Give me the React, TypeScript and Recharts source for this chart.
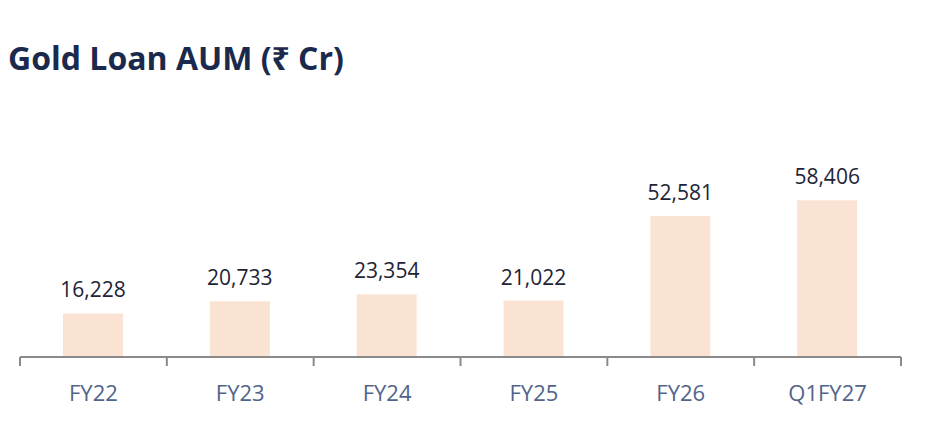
import React from "react";
import { Bar, BarChart, LabelList, XAxis, YAxis } from "recharts";

const periods = ["FY22", "FY23", "FY24", "FY25", "FY26", "Q1FY27"];
const aumValues = [16228, 20733, 23354, 21022, 52581, 58406];

const data = periods.map((period, i) => ({ period, aum: aumValues[i] }));

const WIDTH = 936;
const HEIGHT = 426;
const MARGIN = { top: 196, right: 35, left: 20, bottom: 29 };
const BAND = (WIDTH - MARGIN.left - MARGIN.right) / periods.length;

const FONT = "'Open Sans', 'Noto Sans', sans-serif";

function PeriodTick(props: any) {
  const { x, y, payload, index } = props;
  const left = x - BAND / 2;
  const right = x + BAND / 2;
  return (
    <g>
      <line x1={left} y1={y - 8} x2={left} y2={y + 1} stroke="#8a8a8a" strokeWidth={2} />
      {index === periods.length - 1 && (
        <line x1={right} y1={y - 8} x2={right} y2={y + 1} stroke="#8a8a8a" strokeWidth={2} />
      )}
      <text x={x} y={y + 36} textAnchor="middle" fill="#52648a" fontSize={22} fontFamily={FONT}>
        {payload.value}
      </text>
    </g>
  );
}

export default function App() {
  return (
    <div style={{ position: "absolute", left: 0, top: 0, width: WIDTH, height: HEIGHT, background: "#fff" }}>
      <div
        style={{
          position: "absolute",
          left: 8,
          top: 38,
          fontFamily: FONT,
          fontWeight: 700,
          fontSize: 32,
          color: "#1b2a4c",
          lineHeight: "40px",
          whiteSpace: "nowrap",
        }}
      >
        Gold Loan AUM (₹ Cr)
      </div>
      <BarChart width={WIDTH} height={HEIGHT} data={data} margin={MARGIN} barCategoryGap={0}>
        <XAxis
          dataKey="period"
          axisLine={{ stroke: "#8a8a8a", strokeWidth: 2 }}
          tickLine={false}
          tick={<PeriodTick />}
          height={40}
          interval={0}
        />
        <YAxis hide domain={[0, 60000]} />
        <Bar dataKey="aum" fill="#fbe3d3" barSize={60} isAnimationActive={false}>
          <LabelList
            dataKey="aum"
            position="top"
            offset={16}
            formatter={(v: any) => Number(v).toLocaleString("en-US")}
            fill="#1e2436"
            fontSize={21}
            fontFamily={FONT}
          />
        </Bar>
      </BarChart>
    </div>
  );
}
